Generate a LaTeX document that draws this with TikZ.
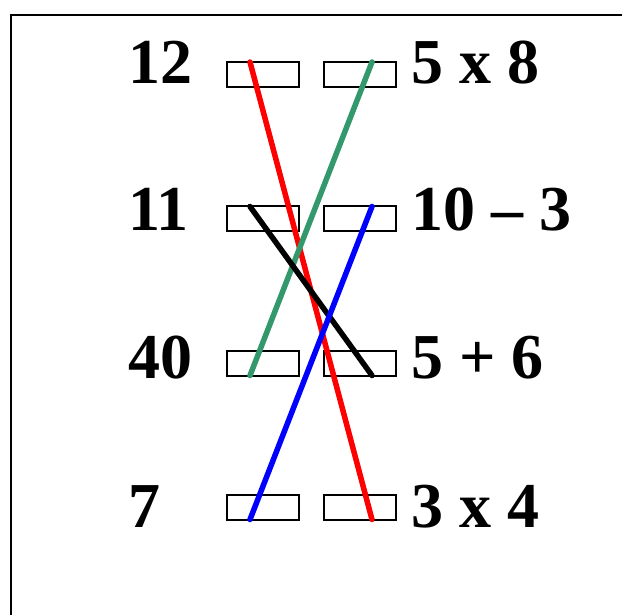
\documentclass[tikz,border=0pt]{standalone}
\usepackage{fontspec}
\setmainfont{Liberation Serif}
\usetikzlibrary{calc}
\tikzset{
  slot/.style={draw=black, line width=2pt, minimum width=72pt, minimum height=25pt, inner sep=0pt, outer sep=0pt},
  lbl/.style={font=\fontsize{64}{64}\selectfont\bfseries, inner sep=0pt, anchor=base west},
  link/.style={line width=5.5pt, line cap=round}
}
\definecolor{linkgreen}{RGB}{51,153,108}
\begin{document}
\begin{tikzpicture}[x=1pt,y=-1pt]
\useasboundingbox (0,0) rectangle (622,615);
\draw[line width=2.2pt] (11,616) -- (11,15) -- (623,15);
% rows
\foreach \i/\yy in {1/74.5,2/219,3/363,4/507}{
  \node[slot] (L\i) at (263,\yy) {};
  \node[slot] (R\i) at (359.5,\yy) {};
}
\node[lbl] (t1) at (128,84) {12};
\node[lbl] (t2) at (128,231) {11};
\node[lbl] (t3) at (128,378) {40};
\node[lbl] (t4) at (128,527) {7};
\node[lbl] (u1) at (411,84) {5 x 8};
\node[lbl] (u2) at (411,231) {10 – 3};
\node[lbl] (u3) at (411,378) {5 + 6};
\node[lbl] (u4) at (411,527) {3 x 4};
% links
\draw[link, red] ([xshift=23pt]L1.north west) -- ([xshift=48.5pt]R4.south west);
\draw[link, linkgreen] ([xshift=23pt]L3.south west) -- ([xshift=48.5pt]R1.north west);
\draw[link, black] ([xshift=23pt]L2.north west) -- ([xshift=48.5pt]R3.south west);
\draw[link, blue] ([xshift=23pt]L4.south west) -- ([xshift=48.5pt]R2.north west);
\end{tikzpicture}
\end{document}
